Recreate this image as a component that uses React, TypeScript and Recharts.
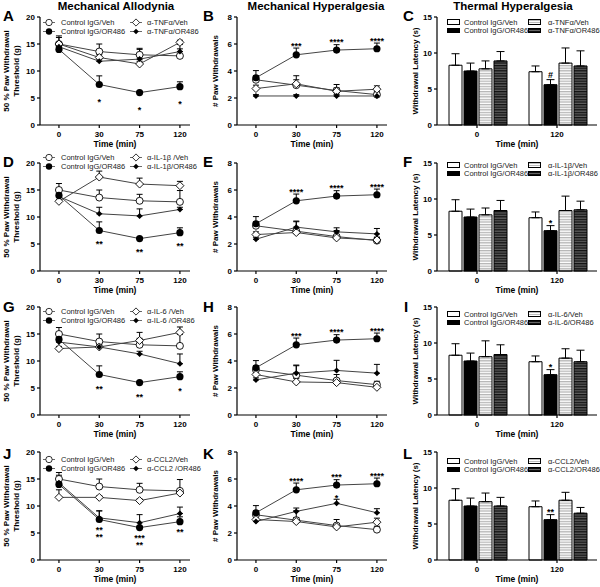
import React from 'react';
import {
  LineChart,
  Line,
  BarChart,
  Bar,
  XAxis,
  YAxis,
  ErrorBar,
  Legend,
  LabelList,
  Label,
} from 'recharts';

const FONT = '"Liberation Sans", Arial, Helvetica, sans-serif';

const timeLabels = ['0', '30', '75', '120'];
const thermalTimes = ['0', '120'];

// mechanical allodynia (g), controls are the same in A, D, G, J
const maCtrlVeh = [15.0, 13.6, 13.0, 12.8];
const maCtrlVehErr = [1.2, 1.4, 1.2, 2.1];
const maCtrlOr = [14.0, 7.5, 6.0, 7.1];
const maCtrlOrErr = [0.4, 1.6, 0.2, 0.9];
const maTnfVeh = [15.0, 12.5, 11.3, 15.3];
const maTnfVehErr = [1.5, 0.5, 0.5, 0.4];
const maTnfOr = [14.5, 11.8, 12.2, 13.6];
const maTnfOrErr = [0.8, 0.4, 1.8, 0.5];
const maIl1Veh = [12.9, 17.4, 16.1, 15.8];
const maIl1VehErr = [0.3, 1.1, 1.1, 0.8];
const maIl1Or = [13.8, 10.6, 10.2, 11.4];
const maIl1OrErr = [0.8, 1.2, 1.3, 0.4];
const maIl6Veh = [12.3, 12.6, 13.8, 15.3];
const maIl6VehErr = [0.4, 0.4, 1.5, 1.0];
const maIl6Or = [13.5, 12.6, 11.3, 9.5];
const maIl6OrErr = [1.5, 0.3, 0.5, 1.8];
const maCclVeh = [11.6, 11.6, 11.0, 12.4];
const maCclVehErr = [1.4, 0.3, 0.3, 0.4];
const maCclOr = [14.3, 7.8, 6.9, 8.6];
const maCclOrErr = [1.4, 1.3, 1.5, 1.2];

// mechanical hyperalgesia (# withdrawals)
const mhCtrlVeh = [3.35, 2.95, 2.55, 2.25];
const mhCtrlVehErr = [0.3, 0.7, 0.45, 0.25];
const mhCtrlOr = [3.5, 5.2, 5.55, 5.65];
const mhCtrlOrErr = [0.53, 0.5, 0.4, 0.42];
const mhTnfVeh = [2.7, 3.05, 2.5, 2.65];
const mhTnfVehErr = [0.25, 0.3, 0.25, 0.25];
const mhTnfOr = [2.15, 2.15, 2.15, 2.15];
const mhTnfOrErr = [0.1, 0.1, 0.1, 0.1];
const mhIl1Veh = [2.7, 2.85, 2.45, 2.3];
const mhIl1VehErr = [0.2, 0.3, 0.2, 0.2];
const mhIl1Or = [2.35, 3.25, 2.9, 2.75];
const mhIl1OrErr = [0.15, 0.45, 0.3, 0.4];
const mhIl6Veh = [3.0, 2.45, 2.4, 2.05];
const mhIl6VehErr = [0.2, 0.25, 0.25, 0.3];
const mhIl6Or = [2.6, 3.1, 3.3, 3.1];
const mhIl6OrErr = [0.15, 0.6, 0.75, 0.65];
const mhCclVeh = [3.0, 2.85, 2.45, 2.8];
const mhCclVehErr = [0.2, 0.3, 0.2, 0.3];
const mhCclOr = [2.85, 3.6, 4.2, 3.5];
const mhCclOrErr = [0.15, 0.25, 0.3, 0.3];

// thermal hyperalgesia (s)
const thCtrlVeh = [8.3, 7.4];
const thCtrlVehErr = [1.6, 0.8];
const thCtrlOr = [7.5, 5.6];
const thCtrlOrErr = [1.1, 0.7];
const thTnfVeh = [7.8, 8.6];
const thTnfVehErr = [1.1, 2.1];
const thTnfOr = [8.9, 8.2];
const thTnfOrErr = [1.3, 2.1];
const thIl1Veh = [7.8, 8.4];
const thIl1VehErr = [0.95, 2.0];
const thIl1Or = [8.4, 8.5];
const thIl1OrErr = [1.4, 1.2];
const thIl6Veh = [8.1, 7.9];
const thIl6VehErr = [2.2, 1.3];
const thIl6Or = [8.4, 7.4];
const thIl6OrErr = [1.35, 1.6];
const thCclVeh = [8.1, 8.3];
const thCclVehErr = [1.2, 1.1];
const thCclOr = [7.5, 6.5];
const thCclOrErr = [1.2, 0.8];

// legend names
const namesA = ['Control IgG/Veh', 'Control IgG/OR486', 'α-TNFα/Veh', 'α-TNFα/OR486'];
const namesC = ['Control IgG/Veh', 'Control IgG/OR486', 'α-TNFα/Veh', 'α-TNFα/OR486'];
const namesD = ['Control IgG/Veh', 'Control IgG/OR486', 'α-IL-1β /Veh', 'α-IL-1β/OR486'];
const namesF = ['Control IgG/Veh', 'Control IgG/OR486', 'α-IL-1β/Veh', 'α-IL-1β/OR486'];
const namesG = ['Control IgG/Veh', 'Control IgG/OR486', 'α-IL-6 /Veh', 'α-IL-6 /OR486'];
const namesI = ['Control IgG/Veh', 'Control IgG/OR486', 'α-IL-6/Veh', 'α-IL-6/OR486'];
const namesJ = ['Control IgG/Veh', 'Control IgG/OR486', 'α-CCL2/Veh', 'α-CCL2 /OR486'];
const namesL = ['Control IgG/Veh', 'Control IgG/OR486', 'α-CCL2/Veh', 'α-CCL2/OR486'];

// significance marks
const starsA = ['', '*', '*', '*'];
const starsB = ['', '***', '****', '****'];
const marksC = ['', '#'];
const starsD = ['', '**', '**', '**'];
const starsE = ['', '****', '****', '****'];
const marksF = ['', '*'];
const starsG = ['', '**', '**', '*'];
const starsH = ['', '***', '****', '****'];
const marksI = ['', '*'];
const starsJ = ['', '**', '***', '**'];
const starsJ2 = ['', '**', '**', ''];
const starsK = ['', '****', '***', '****'];
const starsK2 = ['', '', '*', ''];
const marksL = ['', '**'];

const lineRows = (cv, cvE, co, coE, av, avE, ao, aoE) =>
  timeLabels.map((t, i) => ({
    idx: i,
    t,
    cv: cv[i],
    cvE: [0, cvE[i]],
    co: co[i],
    coE: [0, coE[i]],
    av: av[i],
    avE: [0, avE[i]],
    ao: ao[i],
    aoE: [0, aoE[i]],
    coTop: co[i] + coE[i],
    aoTop: ao[i] + aoE[i],
  }));

const barRows = (cv, cvE, co, coE, av, avE, ao, aoE) =>
  thermalTimes.map((t, i) => ({
    t,
    cv: cv[i],
    cvE: [0, cvE[i]],
    co: co[i],
    coE: [0, coE[i]],
    av: av[i],
    avE: [0, avE[i]],
    ao: ao[i],
    aoE: [0, aoE[i]],
  }));

const tickStyle = { fontSize: 8, fontWeight: 'bold', fill: '#000', fontFamily: FONT };
const axisStyle = { stroke: '#000', strokeWidth: 1.2 };

const diamond = (cx, cy, r) => `M${cx},${cy - r}L${cx + r},${cy}L${cx},${cy + r}L${cx - r},${cy}Z`;

const openCircle = (p: any) => (
  <circle key={`oc${p.index}`} cx={p.cx} cy={p.cy} r={3.5} fill="#fff" stroke="#000" strokeWidth={0.9} />
);
const fullCircle = (p: any) => <circle key={`fc${p.index}`} cx={p.cx} cy={p.cy} r={3.6} fill="#000" />;
const openDiamond = (p: any) => (
  <path key={`od${p.index}`} d={diamond(p.cx, p.cy, 4)} fill="#fff" stroke="#000" strokeWidth={0.9} />
);
const fullDiamond = (p: any) => <path key={`fd${p.index}`} d={diamond(p.cx, p.cy, 3)} fill="#000" />;

const pos = (p: any) => {
  const vb = p.viewBox || {};
  return {
    x: vb.x ?? p.x,
    y: vb.y ?? p.y,
    w: vb.width ?? p.width ?? 0,
    h: vb.height ?? p.height ?? 0,
  };
};

// marks drawn at a label point, shifted by dy
const markAt = (texts: string[], dy: number) => (p: any) => {
  const s = texts[p.index];
  if (!s) return null;
  const { x, y, w } = pos(p);
  return (
    <text key={`m${p.index}`} x={x + w / 2} y={y + dy} textAnchor="middle" fontSize={9} fontWeight="bold" fontFamily={FONT} fill="#000">
      {s}
    </text>
  );
};

// mark over the error bar of a bar
const barMark = (texts: string[], errs: number[], dy: number) => (p: any) => {
  const s = texts[p.index];
  if (!s) return null;
  const { x, y, w, h } = pos(p);
  const v = Number(p.value) || 1;
  const top = y - (errs[p.index] * Math.abs(h)) / v;
  return (
    <text key={`b${p.index}`} x={x + w / 2} y={top + dy} textAnchor="middle" fontSize={9} fontWeight="bold" fontFamily={FONT} fill="#000">
      {s}
    </text>
  );
};

const yTitle = (lines: string[]) => (p: any) => {
  const vb = p.viewBox || { x: 0, y: 17, width: 40, height: 108 };
  const cy = vb.y + vb.height / 2;
  const xs = lines.length === 2 ? [vb.x + 8.5, vb.x + 18.5] : [vb.x + 21];
  return (
    <g>
      {lines.map((l, i) => (
        <text
          key={l}
          x={xs[i]}
          y={cy}
          transform={`rotate(-90 ${xs[i]} ${cy})`}
          textAnchor="middle"
          fontSize={8}
          fontWeight="bold"
          fontFamily={FONT}
          fill="#000"
        >
          {l}
        </text>
      ))}
    </g>
  );
};

const markerIcon = (kind: number) => {
  if (kind === 0) return <circle cx={6} cy={4.5} r={3.2} fill="#fff" stroke="#000" strokeWidth={0.8} />;
  if (kind === 1) return <circle cx={6} cy={4.5} r={3.2} fill="#000" />;
  if (kind === 2) return <path d={diamond(6, 4.5, 3.6)} fill="#fff" stroke="#000" strokeWidth={0.8} />;
  return <path d={diamond(6, 4.5, 2.8)} fill="#000" />;
};

const lineLegend = (names: string[]) => () => (
  <div style={{ position: 'relative', width: 160, height: 18, fontSize: 7.5, color: '#222', fontFamily: FONT }}>
    {names.map((n, i) => (
      <div
        key={n}
        style={{
          position: 'absolute',
          left: i < 2 ? 3 : 90,
          top: (i % 2) * 9,
          height: 9,
          display: 'flex',
          alignItems: 'center',
          whiteSpace: 'nowrap',
        }}
      >
        <svg width={12} height={9}>
          <line x1={0} y1={4.5} x2={12} y2={4.5} stroke="#444" strokeWidth={0.8} />
          {markerIcon(i)}
        </svg>
        <span style={{ marginLeft: i < 2 ? 6 : 5 }}>{n}</span>
      </div>
    ))}
  </div>
);

const swatchBg = [
  '#fff',
  '#000',
  'repeating-linear-gradient(to bottom, #bdbdbd 0px, #bdbdbd 1px, #fff 1px, #fff 2px)',
  'repeating-linear-gradient(to bottom, #111 0px, #111 1px, #666 1px, #666 2px)',
];

const barLegend = (names: string[]) => () => (
  <div style={{ position: 'relative', width: 160, height: 18, fontSize: 7.5, color: '#222', fontFamily: FONT }}>
    {names.map((n, i) => (
      <div
        key={n}
        style={{
          position: 'absolute',
          left: i < 2 ? 10 : 91,
          top: (i % 2) * 8.5,
          height: 9,
          display: 'flex',
          alignItems: 'center',
          whiteSpace: 'nowrap',
        }}
      >
        <div style={{ width: 11, height: 3.5, border: '0.8px solid #000', background: swatchBg[i] }} />
        <span style={{ marginLeft: i < 2 ? 4 : 7 }}>{n}</span>
      </div>
    ))}
  </div>
);

function LinePanel({ data, yMax, yTicks, yLines, names, legendTop, below, belowDy, below2, above, above2 }: any) {
  return (
    <LineChart width={200} height={150} data={data} margin={{ top: 17, right: 10, bottom: 4, left: 0 }}>
      <XAxis
        type="number"
        dataKey="idx"
        domain={[-0.47, 3.25]}
        ticks={[0, 1, 2, 3]}
        tickFormatter={(v) => timeLabels[v]}
        height={21}
        tick={tickStyle}
        tickSize={3}
        tickMargin={3}
        axisLine={axisStyle}
        tickLine={axisStyle}
      >
        <Label value="Time (min)" position="insideBottom" offset={-1} fontSize={8.5} fontWeight="bold" fill="#000" fontFamily={FONT} />
      </XAxis>
      <YAxis
        type="number"
        domain={[0, yMax]}
        ticks={yTicks}
        width={40}
        tick={tickStyle}
        tickSize={3}
        tickMargin={2}
        axisLine={axisStyle}
        tickLine={axisStyle}
        label={yTitle(yLines)}
      />
      {names && (
        <Legend
          layout="horizontal"
          verticalAlign="middle"
          align="center"
          content={lineLegend(names)}
          wrapperStyle={{ top: legendTop, left: 40, width: 160, height: 18 }}
        />
      )}
      <Line dataKey="cv" stroke="#444" strokeWidth={1} dot={openCircle} activeDot={false} isAnimationActive={false}>
        <ErrorBar dataKey="cvE" direction="y" width={3} stroke="#000" strokeWidth={1} />
      </Line>
      <Line dataKey="av" stroke="#444" strokeWidth={1} dot={openDiamond} activeDot={false} isAnimationActive={false}>
        <ErrorBar dataKey="avE" direction="y" width={3} stroke="#000" strokeWidth={1} />
      </Line>
      <Line dataKey="ao" stroke="#444" strokeWidth={1} dot={fullDiamond} activeDot={false} isAnimationActive={false}>
        <ErrorBar dataKey="aoE" direction="y" width={3} stroke="#000" strokeWidth={1} />
      </Line>
      <Line dataKey="co" stroke="#444" strokeWidth={1} dot={fullCircle} activeDot={false} isAnimationActive={false}>
        <ErrorBar dataKey="coE" direction="y" width={3} stroke="#000" strokeWidth={1} />
        {below && <LabelList dataKey="co" content={markAt(below, belowDy)} />}
        {below2 && <LabelList dataKey="co" content={markAt(below2, belowDy + 7)} />}
      </Line>
      {above && (
        <Line dataKey="coTop" stroke="none" dot={false} activeDot={false} legendType="none" isAnimationActive={false}>
          <LabelList dataKey="coTop" content={markAt(above, 0.5)} />
        </Line>
      )}
      {above2 && (
        <Line dataKey="aoTop" stroke="none" dot={false} activeDot={false} legendType="none" isAnimationActive={false}>
          <LabelList dataKey="aoTop" content={markAt(above2, 2)} />
        </Line>
      )}
    </LineChart>
  );
}

function BarPanel({ data, names, legendTop, marks, markDy, pid }: any) {
  return (
    <BarChart
      width={203}
      height={150}
      data={data}
      margin={{ top: 17, right: 3, bottom: 4, left: 0 }}
      barCategoryGap="15%"
      barGap={2}
    >
      <defs>
        <pattern id={`lt${pid}`} width={4} height={2.6} patternUnits="userSpaceOnUse">
          <rect width={4} height={2.6} fill="#fff" />
          <rect width={4} height={1.3} fill="#b5b5b5" />
        </pattern>
        <pattern id={`dk${pid}`} width={4} height={2.6} patternUnits="userSpaceOnUse">
          <rect width={4} height={2.6} fill="#5e5e5e" />
          <rect width={4} height={1.3} fill="#111" />
        </pattern>
      </defs>
      <XAxis
        dataKey="t"
        height={21}
        tick={tickStyle}
        tickSize={3}
        tickMargin={3}
        axisLine={axisStyle}
        tickLine={axisStyle}
      >
        <Label value="Time (min)" position="insideBottom" offset={-1} fontSize={8.5} fontWeight="bold" fill="#000" fontFamily={FONT} />
      </XAxis>
      <YAxis
        type="number"
        domain={[0, 15]}
        ticks={[0, 5, 10, 15]}
        width={40}
        tick={tickStyle}
        tickSize={3}
        tickMargin={2}
        axisLine={axisStyle}
        tickLine={axisStyle}
        label={yTitle(['Withdrawal Latency (s)'])}
      />
      <Legend
        layout="horizontal"
        verticalAlign="middle"
        align="center"
        content={barLegend(names)}
        wrapperStyle={{ top: legendTop, left: 40, width: 160, height: 18 }}
      />
      <Bar dataKey="cv" fill="#fff" stroke="#000" strokeWidth={1} isAnimationActive={false}>
        <ErrorBar dataKey="cvE" direction="y" width={4} stroke="#000" strokeWidth={1} />
      </Bar>
      <Bar dataKey="co" fill="#000" stroke="#000" strokeWidth={1} isAnimationActive={false}>
        <ErrorBar dataKey="coE" direction="y" width={4} stroke="#000" strokeWidth={1} />
        <LabelList dataKey="co" content={barMark(marks, data.map((d) => d.coE[1]), markDy)} />
      </Bar>
      <Bar dataKey="av" fill={`url(#lt${pid})`} stroke="#000" strokeWidth={1} isAnimationActive={false}>
        <ErrorBar dataKey="avE" direction="y" width={4} stroke="#000" strokeWidth={1} />
      </Bar>
      <Bar dataKey="ao" fill={`url(#dk${pid})`} stroke="#000" strokeWidth={1} isAnimationActive={false}>
        <ErrorBar dataKey="aoE" direction="y" width={4} stroke="#000" strokeWidth={1} />
      </Bar>
    </BarChart>
  );
}

const maLines = ['50 % Paw Withdrawal', 'Threshold (g)'];
const mhLines = ['# Paw Withdrawals'];
const maTicks = [0, 5, 10, 15, 20];
const mhTicks = [0, 2, 4, 6, 8];

const dataA = lineRows(maCtrlVeh, maCtrlVehErr, maCtrlOr, maCtrlOrErr, maTnfVeh, maTnfVehErr, maTnfOr, maTnfOrErr);
const dataB = lineRows(mhCtrlVeh, mhCtrlVehErr, mhCtrlOr, mhCtrlOrErr, mhTnfVeh, mhTnfVehErr, mhTnfOr, mhTnfOrErr);
const dataC = barRows(thCtrlVeh, thCtrlVehErr, thCtrlOr, thCtrlOrErr, thTnfVeh, thTnfVehErr, thTnfOr, thTnfOrErr);
const dataD = lineRows(maCtrlVeh, maCtrlVehErr, maCtrlOr, maCtrlOrErr, maIl1Veh, maIl1VehErr, maIl1Or, maIl1OrErr);
const dataE = lineRows(mhCtrlVeh, mhCtrlVehErr, mhCtrlOr, mhCtrlOrErr, mhIl1Veh, mhIl1VehErr, mhIl1Or, mhIl1OrErr);
const dataF = barRows(thCtrlVeh, thCtrlVehErr, thCtrlOr, thCtrlOrErr, thIl1Veh, thIl1VehErr, thIl1Or, thIl1OrErr);
const dataG = lineRows(maCtrlVeh, maCtrlVehErr, maCtrlOr, maCtrlOrErr, maIl6Veh, maIl6VehErr, maIl6Or, maIl6OrErr);
const dataH = lineRows(mhCtrlVeh, mhCtrlVehErr, mhCtrlOr, mhCtrlOrErr, mhIl6Veh, mhIl6VehErr, mhIl6Or, mhIl6OrErr);
const dataI = barRows(thCtrlVeh, thCtrlVehErr, thCtrlOr, thCtrlOrErr, thIl6Veh, thIl6VehErr, thIl6Or, thIl6OrErr);
const dataJ = lineRows(maCtrlVeh, maCtrlVehErr, maCtrlOr, maCtrlOrErr, maCclVeh, maCclVehErr, maCclOr, maCclOrErr);
const dataK = lineRows(mhCtrlVeh, mhCtrlVehErr, mhCtrlOr, mhCtrlOrErr, mhCclVeh, mhCclVehErr, mhCclOr, mhCclOrErr);
const dataL = barRows(thCtrlVeh, thCtrlVehErr, thCtrlOr, thCtrlOrErr, thCclVeh, thCclVehErr, thCclOr, thCclOrErr);

const at = (left: number, top: number) => ({ position: 'absolute' as const, left, top });

export default function App() {
  return (
    <div style={{ position: 'absolute', left: 0, top: 0, width: 600, height: 587, overflow: 'hidden', background: '#fff', fontFamily: FONT }}>
      <div style={at(0, 0)}>
        <LinePanel data={dataA} yMax={20} yTicks={maTicks} yLines={maLines} names={namesA} legendTop={17.5} below={starsA} belowDy={20} />
      </div>
      <div style={at(197, 0)}>
        <LinePanel data={dataB} yMax={8} yTicks={mhTicks} yLines={mhLines} above={starsB} />
      </div>
      <div style={at(397, 0)}>
        <BarPanel data={dataC} names={namesC} legendTop={17.5} marks={marksC} markDy={-2} pid="c" />
      </div>

      <div style={at(0, 146)}>
        <LinePanel data={dataD} yMax={20} yTicks={maTicks} yLines={maLines} names={namesD} legendTop={6.5} below={starsD} belowDy={16} />
      </div>
      <div style={at(197, 146)}>
        <LinePanel data={dataE} yMax={8} yTicks={mhTicks} yLines={mhLines} above={starsE} />
      </div>
      <div style={at(397, 146)}>
        <BarPanel data={dataF} names={namesF} legendTop={14.5} marks={marksF} markDy={0} pid="f" />
      </div>

      <div style={at(0, 290)}>
        <LinePanel data={dataG} yMax={20} yTicks={maTicks} yLines={maLines} names={namesG} legendTop={16.5} below={starsG} belowDy={17} />
      </div>
      <div style={at(197, 290)}>
        <LinePanel data={dataH} yMax={8} yTicks={mhTicks} yLines={mhLines} above={starsH} />
      </div>
      <div style={at(397, 290)}>
        <BarPanel data={dataI} names={namesI} legendTop={19.5} marks={marksI} markDy={0} pid="i" />
      </div>

      <div style={at(0, 435)}>
        <LinePanel data={dataJ} yMax={20} yTicks={maTicks} yLines={maLines} names={namesJ} legendTop={19.5} below={starsJ} below2={starsJ2} belowDy={13} />
      </div>
      <div style={at(197, 435)}>
        <LinePanel data={dataK} yMax={8} yTicks={mhTicks} yLines={mhLines} above={starsK} above2={starsK2} />
      </div>
      <div style={at(397, 435)}>
        <BarPanel data={dataL} names={namesL} legendTop={21.5} marks={marksL} markDy={0} pid="l" />
      </div>

      <svg width={600} height={587} style={{ position: 'absolute', left: 0, top: 0, pointerEvents: 'none' }}>
        <g fontFamily={FONT} fontWeight="bold" fill="#000">
          <text x={116} y={10} fontSize={11.5} textAnchor="middle">Mechanical Allodynia</text>
          <text x={316} y={10} fontSize={11.5} textAnchor="middle">Mechanical Hyperalgesia</text>
          <text x={513} y={10} fontSize={11.5} textAnchor="middle">Thermal Hyperalgesia</text>
          <text x={3} y={21} fontSize={15}>A</text>
          <text x={203} y={21} fontSize={15}>B</text>
          <text x={403} y={21} fontSize={15}>C</text>
          <text x={3} y={167} fontSize={15}>D</text>
          <text x={203} y={167} fontSize={15}>E</text>
          <text x={403} y={167} fontSize={15}>F</text>
          <text x={3} y={312} fontSize={15}>G</text>
          <text x={203} y={312} fontSize={15}>H</text>
          <text x={404} y={312} fontSize={15}>I</text>
          <text x={3} y={459} fontSize={15}>J</text>
          <text x={203} y={459} fontSize={15}>K</text>
          <text x={403} y={459} fontSize={15}>L</text>
        </g>
      </svg>
    </div>
  );
}
